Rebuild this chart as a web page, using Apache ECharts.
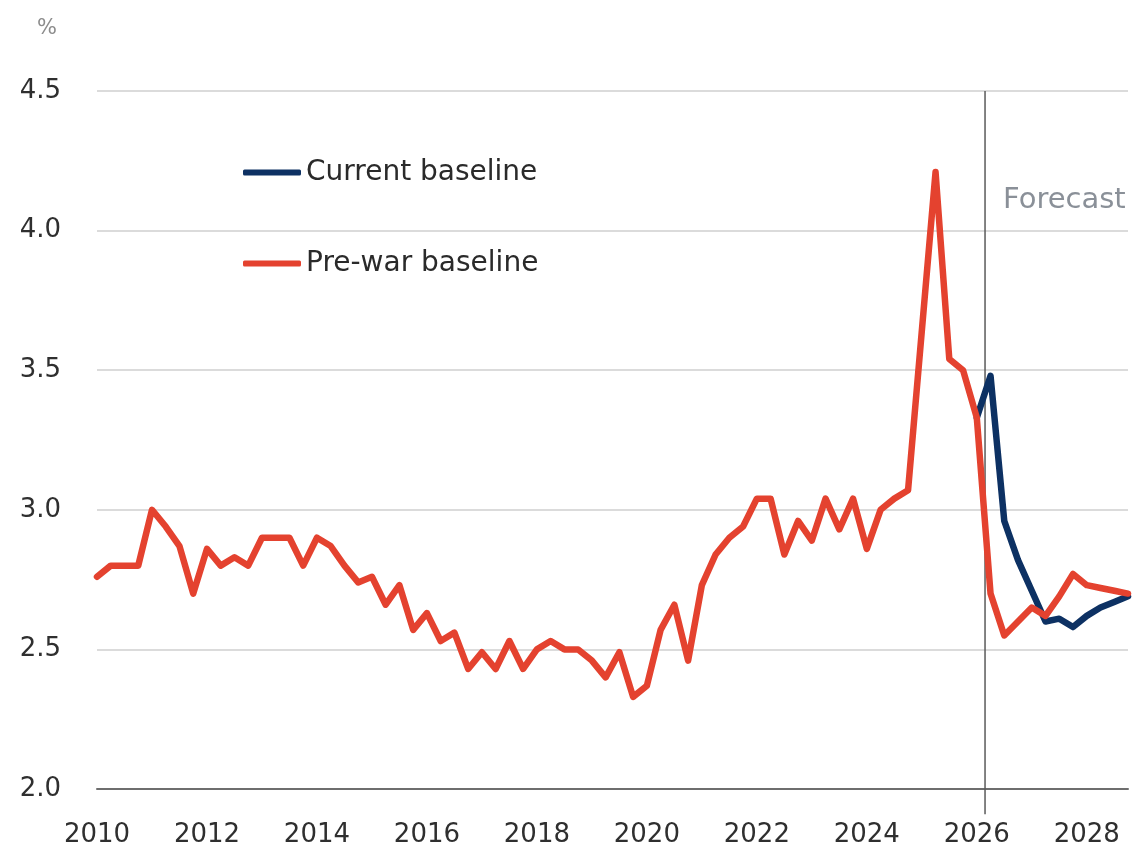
<!DOCTYPE html>
<html>
<head>
<meta charset="utf-8">
<script src="https://cdn.jsdelivr.net/npm/echarts@6/dist/echarts.min.js"></script>
<style>
  html, body { margin: 0; padding: 0; background: #ffffff; }
  #chart { width: 1141px; height: 851px; }
</style>
</head>
<body>
<div id="chart"></div>
<script>
// Quarterly periods, 2010 Q1 to 2028 Q4
const quarters = [];
for (let y = 2010; y <= 2028; y++) { for (let q = 1; q <= 4; q++) quarters.push(y + 'Q' + q); }

// Pre-war baseline (%), one value per quarter
const preWar = [
  2.76, 2.80, 2.80, 2.80,   // 2010
  3.00, 2.94, 2.87, 2.70,   // 2011
  2.86, 2.80, 2.83, 2.80,   // 2012
  2.90, 2.90, 2.90, 2.80,   // 2013
  2.90, 2.87, 2.80, 2.74,   // 2014
  2.76, 2.66, 2.73, 2.57,   // 2015
  2.63, 2.53, 2.56, 2.43,   // 2016
  2.49, 2.43, 2.53, 2.43,   // 2017
  2.50, 2.53, 2.50, 2.50,   // 2018
  2.46, 2.40, 2.49, 2.33,   // 2019
  2.37, 2.57, 2.66, 2.46,   // 2020
  2.73, 2.84, 2.90, 2.94,   // 2021
  3.04, 3.04, 2.84, 2.96,   // 2022
  2.89, 3.04, 2.93, 3.04,   // 2023
  2.86, 3.00, 3.04, 3.07,   // 2024
  3.64, 4.21, 3.54, 3.50,   // 2025
  3.33, 2.70, 2.55, 2.60,   // 2026
  2.65, 2.62, 2.69, 2.77,   // 2027
  2.73, 2.72, 2.71, 2.70    // 2028
];

// Current baseline (%), forecast period only (before 2026 Q1 it matches the pre-war line)
const currentForecast = [
  3.33, 3.48, 2.96, 2.82,   // 2026
  2.71, 2.60, 2.61, 2.58,   // 2027
  2.62, 2.65, 2.67, 2.69    // 2028
];
const currentStartIndex = quarters.indexOf('2026Q1');

const yTicks = [2.0, 2.5, 3.0, 3.5, 4.0, 4.5];
const forecastStart = 2026.15;      // position of the forecast divider (years)
const forecastLineBottom = 1.91;    // divider runs slightly below the axis
const seriesNames = ['Current baseline', 'Pre-war baseline'];

function qToX(label) {
  const yr = parseInt(label.slice(0, 4), 10);
  const q = parseInt(label.slice(5), 10);
  return yr + (q - 1) / 4;
}

const preWarData = quarters.map((q, i) => [qToX(q), preWar[i]]);
const currentData = quarters.map((q, i) => {
  const k = i - currentStartIndex;
  return [qToX(q), (k >= 0 && k < currentForecast.length) ? currentForecast[k] : null];
});
const dividerData = [[forecastStart, yTicks[yTicks.length - 1]], [forecastStart, forecastLineBottom]];

const FONT = '"DejaVu Sans", sans-serif';
const chart = echarts.init(document.getElementById('chart'), null, { renderer: 'canvas' });

chart.setOption({
  animation: false,
  backgroundColor: '#ffffff',
  grid: { left: 97, right: 13, top: 91, bottom: 62, containLabel: false },
  legend: {
    orient: 'vertical',
    left: 243,
    top: 157,
    padding: 0,
    itemGap: 60,
    itemWidth: 58,
    itemHeight: 6,
    icon: 'roundRect',
    data: seriesNames,
    textStyle: { fontFamily: FONT, fontSize: 28, color: '#2a2a2a', lineHeight: 31 }
  },
  xAxis: {
    type: 'value',
    min: 2010,
    max: 2028.75,
    interval: 2,
    axisLine: { show: true, onZero: false, lineStyle: { color: '#6e6e6e', width: 2 } },
    axisTick: { show: false },
    splitLine: { show: false },
    axisLabel: {
      margin: 33,
      fontFamily: FONT,
      fontSize: 26,
      color: '#2f2f2f',
      showMaxLabel: false,
      formatter: v => (Number.isInteger(v) && v % 2 === 0) ? String(v) : ''
    }
  },
  yAxis: {
    type: 'value',
    min: yTicks[0],
    max: yTicks[yTicks.length - 1],
    interval: 0.5,
    axisLine: { show: false },
    axisTick: { show: false },
    splitLine: { show: true, lineStyle: { color: '#cfcfcf', width: 1.5 } },
    axisLabel: {
      margin: 36,
      fontFamily: FONT,
      fontSize: 26,
      color: '#2f2f2f',
      formatter: v => v.toFixed(1)
    }
  },
  graphic: [
    { type: 'text', left: 37, top: 18, style: { text: '%', fontFamily: FONT, fontSize: 21, fill: '#8c8c8c' } },
    { type: 'text', left: 1003, top: 186, style: { text: 'Forecast', fontFamily: FONT, fontSize: 29, fill: '#8a9098' } }
  ],
  series: [
    {
      name: 'Forecast divider',
      type: 'line',
      data: dividerData,
      showSymbol: false,
      symbol: 'none',
      clip: false,
      silent: true,
      lineStyle: { color: '#5a5a5a', width: 1.5 },
      z: 1
    },
    {
      name: seriesNames[0],
      type: 'line',
      data: currentData,
      showSymbol: false,
      symbol: 'none',
      connectNulls: false,
      lineStyle: { color: '#0d3163', width: 6.5, cap: 'round', join: 'round' },
      itemStyle: { color: '#0d3163' },
      z: 2
    },
    {
      name: seriesNames[1],
      type: 'line',
      data: preWarData,
      showSymbol: false,
      symbol: 'none',
      lineStyle: { color: '#e4422f', width: 6.5, cap: 'round', join: 'round' },
      itemStyle: { color: '#e4422f' },
      z: 3
    }
  ]
});
</script>
</body>
</html>
